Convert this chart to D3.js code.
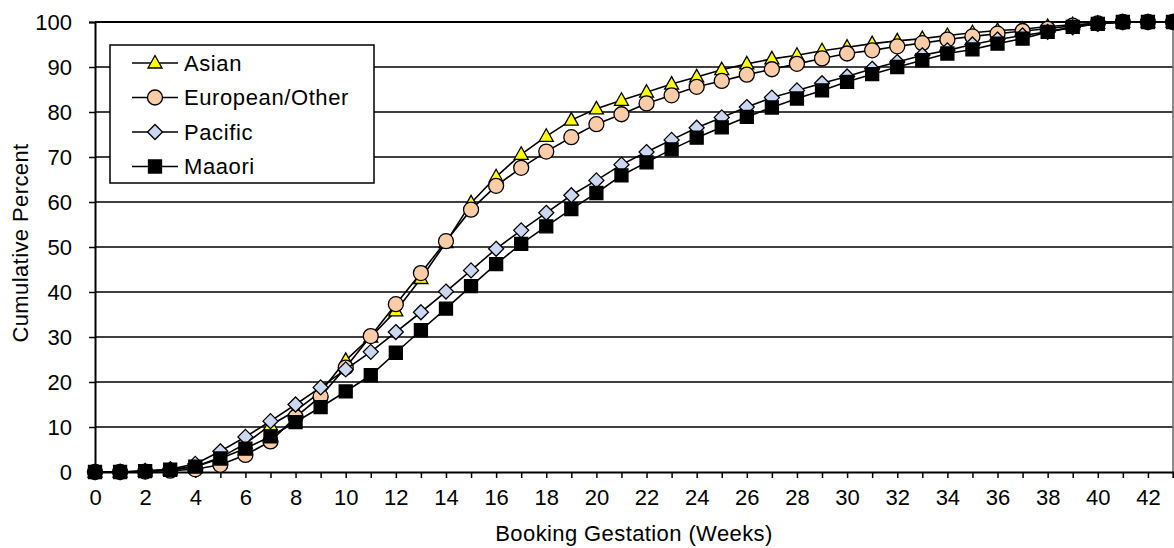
<!DOCTYPE html>
<html>
<head>
<meta charset="utf-8">
<script src="https://cdn.jsdelivr.net/npm/d3@7"></script>
<style>
  html, body { margin: 0; padding: 0; background: #fff; }
  svg { display: block; font-family: "Liberation Sans", Arial, sans-serif; }
</style>
</head>
<body>
<svg id="chart" width="1174" height="548"></svg>
<script>
// Booking gestation in weeks (category axis)
const weeks = [0, 1, 2, 3, 4, 5, 6, 7, 8, 9, 10, 11, 12, 13, 14, 15, 16, 17, 18, 19, 20, 21,
               22, 23, 24, 25, 26, 27, 28, 29, 30, 31, 32, 33, 34, 35, 36, 37, 38, 39, 40, 41, 42, 43];

// Cumulative percent of women booked, by ethnic group
const asian    = [0, 0, 0.2, 0.5, 1.2, 3.2, 6.3, 10.4, 13.6, 17.8, 24.8, 30.0, 35.8, 43.0, 51.0, 59.8,
                  65.6, 70.6, 74.6, 78.2, 80.7, 82.6, 84.4, 86.2, 87.8, 89.4, 90.7, 91.8, 92.6, 93.6,
                  94.4, 95.2, 95.8, 96.3, 97.0, 97.6, 98.1, 98.4, 99.0, 99.4, 99.7, 100, 100, 100];
const european = [0, 0, 0.1, 0.3, 0.6, 1.6, 3.8, 6.8, 12.2, 16.8, 23.2, 30.2, 37.3, 44.2, 51.3, 58.3,
                  63.6, 67.6, 71.2, 74.4, 77.3, 79.5, 81.9, 83.7, 85.6, 86.9, 88.3, 89.5, 90.7, 91.9,
                  93.0, 93.7, 94.6, 95.3, 96.1, 96.8, 97.4, 98.0, 98.5, 99.2, 99.7, 100, 100, 100];
const pacific  = [0, 0, 0.2, 0.6, 1.8, 4.6, 7.8, 11.3, 15.0, 18.8, 22.8, 26.7, 31.1, 35.5, 40.1, 44.8,
                  49.6, 53.7, 57.6, 61.5, 64.8, 68.3, 71.1, 73.8, 76.5, 78.8, 81.1, 83.2, 84.8, 86.4,
                  87.9, 89.6, 91.1, 92.6, 93.7, 95.0, 96.1, 97.0, 97.8, 98.8, 99.6, 100, 100, 100];
const maaori   = [0, 0, 0.2, 0.5, 1.2, 3.0, 5.2, 7.9, 11.1, 14.4, 17.9, 21.5, 26.5, 31.5, 36.3, 41.3,
                  46.2, 50.7, 54.6, 58.4, 62.0, 65.9, 68.8, 71.7, 74.3, 76.6, 78.9, 81.0, 83.0, 84.8,
                  86.7, 88.4, 90.0, 91.5, 93.0, 93.9, 95.2, 96.3, 97.8, 98.9, 99.6, 100, 100, 100];

const seriesNames = ["Asian", "European/Other", "Pacific", "Maaori"];
const yTicks = [0, 10, 20, 30, 40, 50, 60, 70, 80, 90, 100];
const xLabelTicks = [0, 2, 4, 6, 8, 10, 12, 14, 16, 18, 20, 22, 24, 26, 28, 30, 32, 34, 36, 38, 40, 42];

const xTitle = "Booking Gestation (Weeks)";
const yTitle = "Cumulative Percent";

// Marker shapes and fills per series
const markerStyles = [
  { shape: "triangle", fill: "#FFFF00" },
  { shape: "circle",   fill: "#FACDA8" },
  { shape: "diamond",  fill: "#CCD8F2" },
  { shape: "square",   fill: "#000000" }
];

const series = seriesNames.map((name, i) => ({
  name,
  values: [asian, european, pacific, maaori][i],
  style: markerStyles[i]
}));

const svg = d3.select("#chart");
const plotLeft = 95, plotRight = 1173, plotTop = 22, plotBottom = 472;
const fontSize = 22;
const fontFamily = "'Liberation Sans', Arial, sans-serif";

const x = d3.scaleLinear().domain([0, 43]).range([plotLeft, plotRight]);
const y = d3.scaleLinear().domain([0, 100]).range([plotBottom, plotTop]);

function markerPath(shape) {
  switch (shape) {
    case "triangle": return "M0,-7.5L7,5L-7,5Z";
    case "diamond":  return "M0,-7.5L7.5,0L0,7.5L-7.5,0Z";
    case "square":   return "M-6.5,-6.5H6.5V6.5H-6.5Z";
    default:         return d3.arc()({ innerRadius: 0, outerRadius: 7.5, startAngle: 0, endAngle: 2 * Math.PI });
  }
}

// Horizontal gridlines
svg.append("g")
  .selectAll("line")
  .data(yTicks.filter(t => t > 0))
  .join("line")
  .attr("x1", plotLeft).attr("x2", plotRight)
  .attr("y1", d => y(d)).attr("y2", d => y(d))
  .attr("stroke", "#000")
  .attr("stroke-width", d => d === 100 ? 2 : 1.6);

// Right edge of the plot area
svg.append("line")
  .attr("x1", plotRight).attr("x2", plotRight)
  .attr("y1", plotTop).attr("y2", plotBottom)
  .attr("stroke", "#666").attr("stroke-width", 1.5);

// Y axis
const yAxis = d3.axisLeft(y).tickValues(yTicks).tickSize(6).tickPadding(17);
const gy = svg.append("g").attr("transform", `translate(${plotLeft},0)`).call(yAxis);
gy.select(".domain").attr("stroke", "#000").attr("stroke-width", 2);
gy.selectAll(".tick line").attr("stroke", "#000").attr("stroke-width", 1.5);
gy.selectAll(".tick text").attr("font-size", fontSize).attr("fill", "#000")
  .attr("font-family", fontFamily);

// X axis: a tick every week, a label every two weeks
const xAxis = d3.axisBottom(x).tickValues(weeks).tickSize(6).tickPadding(11)
  .tickFormat(d => xLabelTicks.includes(d) ? d : "");
const gx = svg.append("g").attr("transform", `translate(0,${plotBottom})`).call(xAxis);
gx.select(".domain").attr("stroke", "#000").attr("stroke-width", 2);
gx.selectAll(".tick line").attr("stroke", "#000").attr("stroke-width", 1.5);
gx.selectAll(".tick text").attr("font-size", fontSize).attr("fill", "#000")
  .attr("font-family", fontFamily);

// Axis titles
svg.append("text")
  .attr("x", (plotLeft + plotRight) / 2).attr("y", 541)
  .attr("text-anchor", "middle").attr("font-size", fontSize)
  .attr("letter-spacing", 0.4)
  .text(xTitle);

svg.append("text")
  .attr("transform", "translate(28,243) rotate(-90)")
  .attr("text-anchor", "middle").attr("font-size", fontSize)
  .attr("letter-spacing", 0.4)
  .text(yTitle);

// Series: line then markers, drawn in order so later groups sit on top
const line = d3.line().x((d, i) => x(weeks[i])).y(d => y(d));

series.forEach(s => {
  const g = svg.append("g");
  g.append("path")
    .attr("d", line(s.values))
    .attr("fill", "none").attr("stroke", "#000").attr("stroke-width", 1.6);
  g.selectAll("path.marker")
    .data(s.values)
    .join("path")
    .attr("class", "marker")
    .attr("transform", (d, i) => `translate(${x(weeks[i])},${y(d)})`)
    .attr("d", markerPath(s.style.shape))
    .attr("fill", s.style.fill)
    .attr("stroke", "#000").attr("stroke-width", 1.3);
});

// Legend
const legend = svg.append("g").attr("transform", "translate(110,45)");
legend.append("rect")
  .attr("width", 264).attr("height", 138)
  .attr("fill", "#fff").attr("stroke", "#000").attr("stroke-width", 1.5);

const rows = legend.selectAll("g.row")
  .data(series)
  .join("g")
  .attr("class", "row")
  .attr("transform", (d, i) => `translate(0,${18 + i * 34.5})`);

rows.append("line")
  .attr("x1", 22).attr("x2", 68)
  .attr("stroke", "#000").attr("stroke-width", 1.6);
rows.append("path")
  .attr("transform", "translate(45,0)")
  .attr("d", d => markerPath(d.style.shape))
  .attr("fill", d => d.style.fill)
  .attr("stroke", "#000").attr("stroke-width", 1.3);
rows.append("text")
  .attr("x", 74).attr("dy", "0.36em")
  .attr("font-size", fontSize).attr("letter-spacing", 0.6)
  .text(d => d.name);
</script>
</body>
</html>
